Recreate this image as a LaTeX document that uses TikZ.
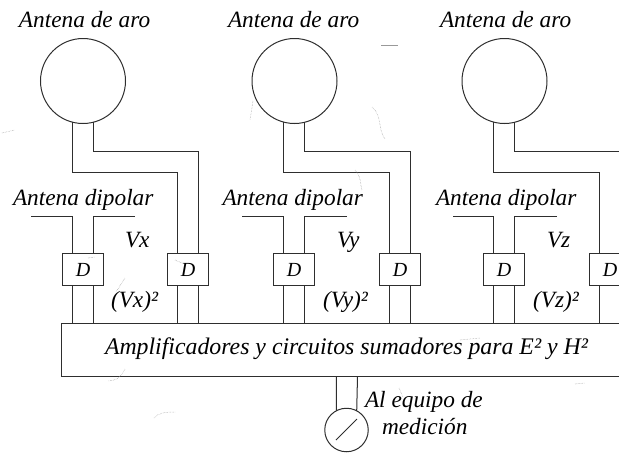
\documentclass[tikz,border=0pt]{standalone}
\usepackage{fontspec}
\setmainfont{Liberation Serif}
\definecolor{ink}{gray}{0.18}
\definecolor{speck}{gray}{0.6}
\tikzset{
  wire/.style={draw=ink,line width=1pt},
  loopant/.style={circle,draw=ink,line width=1pt,minimum size=85pt,inner sep=0pt,outer sep=0pt},
  meterant/.style={circle,draw=ink,line width=1pt,minimum size=43.5pt,inner sep=0pt,outer sep=0pt},
  detbox/.style={rectangle,draw=ink,line width=1pt,fill=white,minimum width=41pt,minimum height=32pt,inner sep=0pt,outer sep=0pt,font=\fontsize{20}{24}\selectfont\itshape},
  busbox/.style={rectangle,draw=ink,line width=1pt,minimum width=600pt,minimum height=53pt,inner sep=0pt,outer sep=0pt},
  lab/.style={anchor=base west,inner sep=0pt,outer sep=0pt,text=black,font=\fontsize{23.3}{27}\selectfont\itshape},
  buslab/.style={lab,font=\fontsize{23.8}{27}\selectfont\itshape},
  noise/.style={draw=speck,line width=0.5pt,densely dotted},
}
% \unitant{n}{circle x}{dipole left end}{dipole right end}{first D x}{second D x}
\newcommand{\unitant}[6]{%
  \node[loopant] (c#1) at (#2,81) {};
  \node[detbox] (da#1) at (#5,269.5) {D};
  \node[detbox] (db#1) at (#6,269.5) {D};
  \coordinate (lo#1) at (#6-10.5,172.5);
  \coordinate (hi#1) at (#6+10.5,151.5);
  \coordinate (dl#1) at (#3,216.5);
  \coordinate (dr#1) at (#4,216.5);
  \coordinate (ja#1) at (#5-10.5,216.5);
  \coordinate (jb#1) at (#5+10.5,216.5);
  \coordinate (ca#1) at (#5-10.5,120);
  \coordinate (cb#1) at (#5+10.5,120);
  \draw[wire] (c#1.255 -| ca#1) |- (lo#1) -- ([xshift=-10.5pt]db#1.north);
  \draw[wire] (c#1.285 -| cb#1) |- (hi#1) -- ([xshift=10.5pt]db#1.north);
  \draw[wire] (dl#1) -- (ja#1) -- ([xshift=-10.5pt]da#1.north);
  \draw[wire] (dr#1) -- (jb#1) -- ([xshift=10.5pt]da#1.north);
  \draw[wire] ([xshift=-10.5pt]da#1.south) -- ([xshift=-10.5pt]da#1.south |- bus.north);
  \draw[wire] ([xshift=10.5pt]da#1.south) -- ([xshift=10.5pt]da#1.south |- bus.north);
  \draw[wire] ([xshift=-10.5pt]db#1.south) -- ([xshift=-10.5pt]db#1.south |- bus.north);
  \draw[wire] ([xshift=10.5pt]db#1.south) -- ([xshift=10.5pt]db#1.south |- bus.north);
}
\begin{document}
\begin{tikzpicture}[x=1pt,y=-1pt]
\useasboundingbox (0,0) rectangle (619,453);
\clip (0,0) rectangle (619,453);
\node[busbox,anchor=north west] (bus) at (61.5,323.5) {};
\unitant{1}{83}{31}{135}{83}{188}
\unitant{2}{294.5}{242}{347}{294}{400}
\unitant{3}{504.5}{453}{557}{504}{610}
% labels
\node[lab] (t1) at (19,27) {Antena de aro};
\node[lab] (t2) at (228,27) {Antena de aro};
\node[lab] (t3) at (440,27) {Antena de aro};
\node[lab] (p1) at (13,205) {Antena dipolar};
\node[lab] (p2) at (222.5,205) {Antena dipolar};
\node[lab] (p3) at (436,205) {Antena dipolar};
\node[lab] (v1) at (125,247) {Vx};
\node[lab] (v2) at (337,247) {Vy};
\node[lab] (v3) at (547,247) {Vz};
\node[lab] (s1) at (111,307) {(Vx)²};
\node[lab] (s2) at (323,307) {(Vy)²};
\node[lab] (s3) at (533,307) {(Vz)²};
\node[buslab] (bt) at (105,354) {Amplificadores y circuitos sumadores para E² y H²};
\node[lab] (m1) at (365,407) {Al equipo de};
\node[lab] (m2) at (382,434) {medición};
% meter
\node[meterant] (mc) at (346.5,430) {};
\draw[wire] (bus.south -| 336.5,0) -- (mc.118);
\draw[wire] (bus.south -| 357.5,0) -- (mc.62);
\coordinate (sa) at (336,440);
\coordinate (sb) at (357,419);
\draw[wire] (sa) -- (sb);
% scan specks
\draw[noise] (2,133) -- (15,130);
\draw[noise] (253,101) -- (250,120);
\draw[draw=speck,line width=0.9pt] (381,45) -- (398,45);
\draw[noise] (372,107) .. controls (382,115) and (378,130) .. (385,139);
\draw[noise] (355,170) .. controls (362,178) and (360,185) .. (362,190);
\draw[noise] (125,278) -- (116,292);
\draw[noise] (125,369) .. controls (120,378) and (118,380) .. (108,381);
\draw[noise] (154,418) .. controls (158,413) and (165,412) .. (175,412);
\draw[noise] (88,258) -- (95,257);
\draw[noise] (175,260) -- (182,263);
\draw[noise] (460,340) -- (480,338);
\draw[noise] (575,384) -- (585,383);
\draw[noise] (399,388) -- (403,397);
\end{tikzpicture}
\end{document}
